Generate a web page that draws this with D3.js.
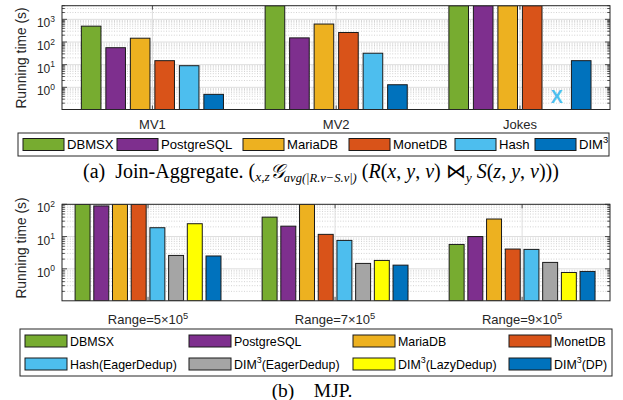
<!DOCTYPE html>
<html><head><meta charset="utf-8">
<script src="https://cdn.jsdelivr.net/npm/d3@7"></script>
<style>
body{margin:0;background:#fff}
svg{display:block}
.sans{font-family:"Liberation Sans",Arial,Helvetica,sans-serif}
.serif{font-family:"Liberation Serif","Times New Roman",serif}
</style>
</head><body>
<svg id="c" width="623" height="400"></svg>
<script>
// ---------- Data: panel (a) ----------
const groupsA = ["MV1", "MV2", "Jokes"];
const seriesA = ["DBMSX", "PostgreSQL", "MariaDB", "MonetDB", "Hash", "DIM3"];
const a_DBMSX      = [500, 4000, 4000];
const a_PostgreSQL = [56, 152, 4000];
const a_MariaDB    = [147, 620, 4000];
const a_MonetDB    = [15, 263, 4000];
const a_Hash       = [9, 32, null];   // null = not available (X)
const a_DIM3       = [0.49, 1.3, 15];
const valuesA = [a_DBMSX, a_PostgreSQL, a_MariaDB, a_MonetDB, a_Hash, a_DIM3];

// ---------- Data: panel (b) ----------
const groupsB = ["Range=5\u00d710^5", "Range=7\u00d710^5", "Range=9\u00d710^5"];
const seriesB = ["DBMSX", "PostgreSQL", "MariaDB", "MonetDB", "Hash(EagerDedup)", "DIM3(EagerDedup)", "DIM3(LazyDedup)", "DIM3(DP)"];
const b_DBMSX      = [100, 40, 5.7];
const b_PostgreSQL = [89, 21, 10];
const b_MariaDB    = [100, 100, 35];
const b_MonetDB    = [100, 11.7, 4.1];
const b_HashEager  = [18.8, 7.6, 4.0];
const b_DIM3Eager  = [2.6, 1.47, 1.58];
const b_DIM3Lazy   = [25, 1.82, 0.77];
const b_DIM3DP     = [2.5, 1.3, 0.83];
const valuesB = [b_DBMSX, b_PostgreSQL, b_MariaDB, b_MonetDB, b_HashEager, b_DIM3Eager, b_DIM3Lazy, b_DIM3DP];

const colorsA = ["#77AC30", "#7E2F8E", "#EDB120", "#D95319", "#4DBEEE", "#0072BD"];
const colorsB = ["#77AC30", "#7E2F8E", "#EDB120", "#D95319", "#4DBEEE", "#A5A5A5", "#FFFF00", "#0072BD"];

const svg = d3.select("#c");
const AX = "#262626";

function supText(sel, base, exp, fs, efs) {
  sel.append("tspan").text(base).attr("font-size", fs);
  sel.append("tspan").text(exp).attr("font-size", efs).attr("dy", -fs * 0.45);
}

function labelWithSup(sel, label, fs) {
  let m;
  if ((m = label.match(/^(.*)\^(\d+)(.*)$/))) {
    sel.append("tspan").text(m[1]).attr("font-size", fs);
    sel.append("tspan").text(m[2]).attr("font-size", fs * 0.72).attr("dy", -fs * 0.42);
    if (m[3]) sel.append("tspan").text(m[3]).attr("font-size", fs).attr("dy", fs * 0.42);
  } else if ((m = label.match(/^DIM3(.*)$/))) {
    sel.append("tspan").text("DIM").attr("font-size", fs);
    sel.append("tspan").text("3").attr("font-size", fs * 0.72).attr("dy", -fs * 0.42);
    if (m[1]) sel.append("tspan").text(m[1]).attr("font-size", fs).attr("dy", fs * 0.42);
  } else {
    sel.text(label).attr("font-size", fs);
  }
}

function panel(o) {
  const x = d3.scaleLinear().domain(o.xdom).range([o.left, o.right]);
  const unit = x(1) - x(0);
  const inner = d3.scaleBand().domain(o.series).range([-0.4, 0.4]).paddingInner(0.2).paddingOuter(0.1);
  const y = d3.scaleLog().domain(o.ydom).range([o.bottom, o.top]);
  const g = svg.append("g");
  const clipId = "clip" + o.id;
  svg.append("clipPath").attr("id", clipId).append("rect")
    .attr("x", o.left).attr("y", o.top).attr("width", o.right - o.left).attr("height", o.bottom - o.top);

  const all = y.ticks().filter(v => v >= o.ydom[0] && v <= o.ydom[1]);
  const isMajor = v => Math.abs(Math.log10(v) - Math.round(Math.log10(v))) < 1e-9;
  const majors = all.filter(isMajor), minors = all.filter(v => !isMajor(v));

  const grid = g.append("g").attr("clip-path", `url(#${clipId})`);
  grid.selectAll(".mn").data(minors).join("line")
    .attr("x1", o.left).attr("x2", o.right).attr("y1", d => y(d)).attr("y2", d => y(d))
    .attr("stroke", "#c8c8c8").attr("stroke-width", 0.8).attr("stroke-dasharray", "1,1.6");
  grid.selectAll(".mj").data(majors).join("line")
    .attr("x1", o.left).attr("x2", o.right).attr("y1", d => y(d)).attr("y2", d => y(d))
    .attr("stroke", "#dedede").attr("stroke-width", 1);
  grid.selectAll(".vx").data(o.groups).join("line")
    .attr("x1", (d, i) => x(i + 1)).attr("x2", (d, i) => x(i + 1)).attr("y1", o.top).attr("y2", o.bottom)
    .attr("stroke", "#dedede").attr("stroke-width", 1);

  const bars = [];
  o.values.forEach((arr, si) => arr.forEach((v, gi) => bars.push({ si, gi, v })));
  const bg = g.append("g").attr("clip-path", `url(#${clipId})`);
  bg.selectAll("rect").data(bars.filter(d => d.v != null)).join("rect")
    .attr("x", d => x(d.gi + 1 + inner(o.series[d.si])))
    .attr("width", inner.bandwidth() * unit)
    .attr("y", d => y(Math.min(d.v, o.ydom[1])))
    .attr("height", d => o.bottom - y(Math.min(d.v, o.ydom[1])))
    .attr("fill", d => o.colors[d.si]).attr("stroke", "#1a1a1a").attr("stroke-width", 1);
  g.selectAll(".xmark").data(bars.filter(d => d.v == null)).join("text")
    .attr("class", "sans")
    .attr("x", d => x(d.gi + 1 + inner(o.series[d.si]) + inner.bandwidth() / 2))
    .attr("y", o.bottom - 6.5).attr("text-anchor", "middle")
    .attr("font-size", 18).attr("font-weight", "bold").attr("fill", d => o.colors[d.si]).text("X");

  const tk = g.append("g").attr("stroke", AX).attr("stroke-width", 0.8);
  majors.forEach(v => {
    tk.append("line").attr("x1", o.left).attr("x2", o.left + 5).attr("y1", y(v)).attr("y2", y(v));
    tk.append("line").attr("x1", o.right).attr("x2", o.right - 5).attr("y1", y(v)).attr("y2", y(v));
  });
  minors.forEach(v => {
    tk.append("line").attr("x1", o.left).attr("x2", o.left + 2.8).attr("y1", y(v)).attr("y2", y(v));
    tk.append("line").attr("x1", o.right).attr("x2", o.right - 2.8).attr("y1", y(v)).attr("y2", y(v));
  });
  o.groups.forEach((d, i) => {
    tk.append("line").attr("x1", x(i + 1)).attr("x2", x(i + 1)).attr("y1", o.bottom).attr("y2", o.bottom - 4);
    tk.append("line").attr("x1", x(i + 1)).attr("x2", x(i + 1)).attr("y1", o.top).attr("y2", o.top + 4);
  });

  g.append("rect").attr("x", o.left).attr("y", o.top).attr("width", o.right - o.left).attr("height", o.bottom - o.top)
    .attr("fill", "none").attr("stroke", AX).attr("stroke-width", 1);

  majors.forEach(v => {
    const t = g.append("text").attr("class", "sans").attr("fill", "#262626")
      .attr("x", o.left - 7).attr("y", y(v) + 8).attr("text-anchor", "end");
    supText(t, "10", String(Math.round(Math.log10(v))), 12, 8.5);
  });
  g.append("text").attr("class", "sans").attr("fill", "#262626").attr("font-size", 13.8)
    .attr("text-anchor", "middle")
    .attr("transform", `translate(${o.ylabX},${o.ylabY}) rotate(-90)`)
    .text("Running time (s)");
  o.groups.forEach((d, i) => {
    const t = g.append("text").attr("class", "sans").attr("fill", "#262626")
      .attr("x", x(i + 1)).attr("y", o.xlabY).attr("text-anchor", "middle");
    labelWithSup(t, d, 13);
  });

  const L = o.legend;
  g.append("rect").attr("x", L.x0).attr("y", L.y0).attr("width", L.x1 - L.x0).attr("height", L.y1 - L.y0)
    .attr("fill", "#fff").attr("stroke", AX).attr("stroke-width", 1);
  o.series.forEach((s, i) => {
    const col = i % L.cols.length, row = Math.floor(i / L.cols.length);
    const cx = L.cols[col], cy = L.rows[row];
    g.append("rect").attr("x", cx).attr("y", cy - 6).attr("width", L.sw).attr("height", 12)
      .attr("fill", o.colors[i]).attr("stroke", "#1a1a1a").attr("stroke-width", 1);
    const t = g.append("text").attr("class", "sans").attr("fill", "#000")
      .attr("x", cx + L.sw + 3).attr("y", cy + 4.5);
    labelWithSup(t, s, L.fs);
  });
}

panel({
  id: "a", groups: groupsA, series: seriesA, values: valuesA, colors: colorsA,
  left: 62, right: 610, top: 5.7, bottom: 109.5, xdom: [0.508, 3.49], ydom: [0.105, 4000],
  ylabX: 26, ylabY: 58, xlabY: 128.5,
  legend: { x0: 18, x1: 609, y0: 133, y1: 156, sw: 41, fs: 13.1, rows: [144.5], cols: [23, 117, 243, 349, 455, 535] }
});

panel({
  id: "b", groups: groupsB, series: seriesB, values: valuesB, colors: colorsB,
  left: 62, right: 610, top: 204.3, bottom: 300.8, xdom: [0.54, 3.47], ydom: [0.102, 100],
  ylabX: 26, ylabY: 248, xlabY: 324,
  legend: { x0: 20, x1: 612, y0: 329, y1: 376, sw: 42, fs: 12.4, rows: [341, 364], cols: [25, 189, 353, 509] }
});

// captions
const capA = svg.append("text").attr("class", "serif").attr("font-size", 20).attr("fill", "#000")
  .attr("x", 321).attr("y", 178).attr("text-anchor", "middle");
capA.append("tspan").text("(a)\u2002Join-Aggregate. (");
capA.append("tspan").text("x,z").attr("font-style", "italic").attr("font-size", 13.5).attr("dy", 3);
capA.append("tspan").text("\ud835\udca2").attr("font-style", "italic").attr("font-size", 20).attr("dy", -3);
capA.append("tspan").text("avg(|R.v\u2212S.v|)").attr("font-style", "italic").attr("font-size", 12.5).attr("dy", 4);
capA.append("tspan").text(" (").attr("dy", -4);
capA.append("tspan").text("R").attr("font-style", "italic");
capA.append("tspan").text("(");
capA.append("tspan").text("x").attr("font-style", "italic");
capA.append("tspan").text(", ");
capA.append("tspan").text("y").attr("font-style", "italic");
capA.append("tspan").text(", ");
capA.append("tspan").text("v").attr("font-style", "italic");
capA.append("tspan").text(") \u22c8");
capA.append("tspan").text("y").attr("font-style", "italic").attr("font-size", 13.5).attr("dy", 4);
capA.append("tspan").text(" S").attr("font-style", "italic").attr("dy", -4);
capA.append("tspan").text("(");
capA.append("tspan").text("z").attr("font-style", "italic");
capA.append("tspan").text(", ");
capA.append("tspan").text("y").attr("font-style", "italic");
capA.append("tspan").text(", ");
capA.append("tspan").text("v").attr("font-style", "italic");
capA.append("tspan").text(")))");

svg.append("text").attr("class", "serif").attr("font-size", 19.5).attr("fill", "#000")
  .attr("x", 312).attr("y", 397).attr("text-anchor", "middle").text("(b)\u2003MJP.");
</script>
</body></html>
